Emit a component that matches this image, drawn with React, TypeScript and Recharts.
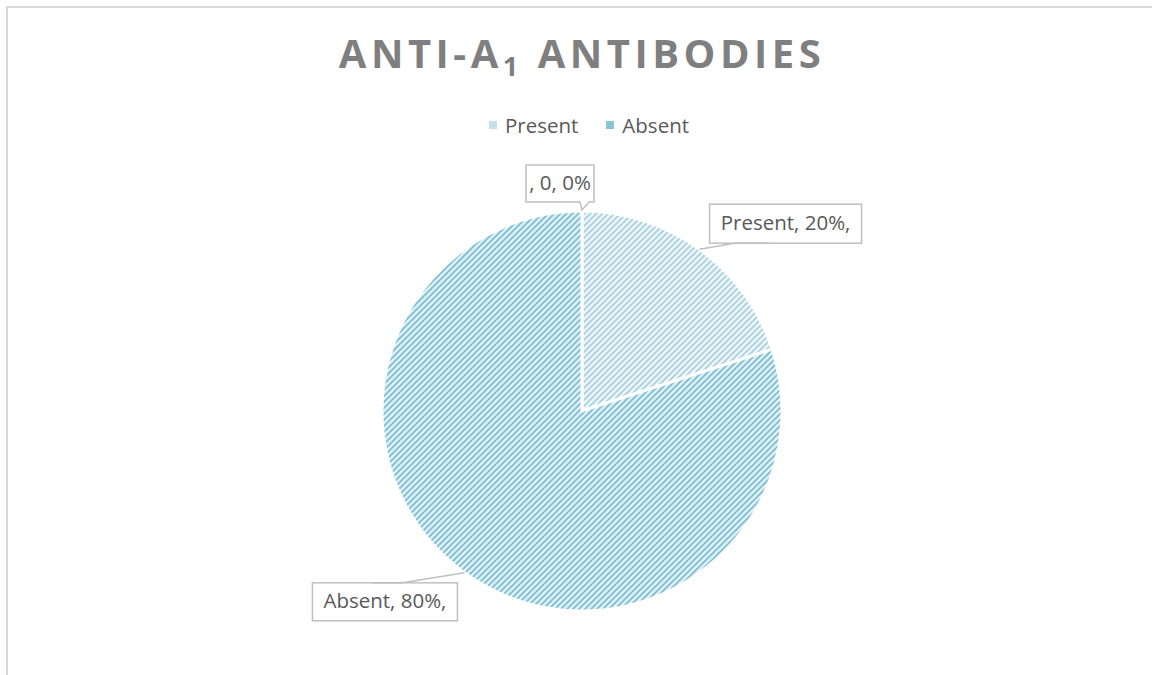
import { PieChart, Pie, Cell } from "recharts";

// categories and values
const categories = ["Present", "Absent", ""];
const shares = [20, 80, 0];
const labelTexts = ["Present, 20%,", "Absent, 80%,", ", 0, 0%"];
const legendNames = ["Present", "Absent"];

const PATTERNS = ["hatchPresent", "hatchAbsent", "hatchPresent"];
const LEGEND_FILL = ["#c4e0ea", "#86c4d7"];
const FONT = "'Open Sans', 'Noto Sans', sans-serif";

const data = categories.map((c, i) => ({ name: c, value: shares[i] }));

const RAD = Math.PI / 180;

// callout boxes, placed around the sector anchor
const BOXES = [
  { dx: 10, dy: -45, w: 152, h: 39 },
  { dx: -152, dy: 10, w: 145, h: 38 },
  { dx: -56, dy: -46, w: 68, h: 37 },
];

function renderLabel(props: any) {
  const { cx, cy, midAngle, outerRadius, index } = props;
  const ax = cx + outerRadius * Math.cos(-midAngle * RAD);
  const ay = cy + outerRadius * Math.sin(-midAngle * RAD);
  const b = BOXES[index];
  const x = ax + b.dx;
  const y = ay + b.dy;
  const stroke = "#bfbfbf";
  let shape;
  if (index === 0) {
    shape = (
      <g>
        <rect x={x} y={y} width={b.w} height={b.h} fill="#fff" stroke={stroke} strokeWidth={1.5} />
        <polyline points={`${ax},${ay} ${x + 25},${y + b.h} ${x + 60},${y + b.h}`} fill="none" stroke={stroke} strokeWidth={1.5} />
      </g>
    );
  } else if (index === 1) {
    shape = (
      <g>
        <rect x={x} y={y} width={b.w} height={b.h} fill="#fff" stroke={stroke} strokeWidth={1.5} />
        <polyline points={`${ax},${ay} ${x + 90},${y} ${x + 60},${y}`} fill="none" stroke={stroke} strokeWidth={1.5} />
      </g>
    );
  } else {
    const bx = x + b.w;
    const by = y + b.h;
    shape = (
      <path
        d={`M${x},${y} H${bx} V${by} H${bx - 5} L${ax},${ay - 1} L${bx - 14},${by} H${x} Z`}
        fill="#fff"
        stroke={stroke}
        strokeWidth={1.5}
      />
    );
  }
  return (
    <g key={`lbl-${index}`}>
      {shape}
      <text
        x={x + b.w / 2}
        y={y + b.h / 2 + 1}
        textAnchor="middle"
        dominantBaseline="middle"
        fill="#595959"
        fontFamily={FONT}
        fontSize={20.5}
      >
        {labelTexts[index]}
      </text>
    </g>
  );
}

export default function App() {
  return (
    <div style={{ position: "absolute", left: 0, top: 0, width: 1152, height: 675, background: "#fff", overflow: "hidden" }}>
      {/* motifs hachurés façon Excel */}
      <svg width={0} height={0} style={{ position: "absolute" }}>
        <defs>
          <pattern id="hatchPresent" patternUnits="userSpaceOnUse" width={6} height={6}>
            <rect width={6} height={6} fill="#f1f8fa" />
            <path d="M-1,1 L1,-1 M0,6 L6,0 M5,7 L7,5" stroke="#afd4e2" strokeWidth={2} />
          </pattern>
          <pattern id="hatchAbsent" patternUnits="userSpaceOnUse" width={6} height={6}>
            <rect width={6} height={6} fill="#e6f3f7" />
            <path d="M-1,1 L1,-1 M0,6 L6,0 M5,7 L7,5" stroke="#84c3d6" strokeWidth={2} />
          </pattern>
        </defs>
      </svg>
      <div style={{ position: "absolute", left: 6, top: 6, width: 1200, height: 700, borderTop: "2px solid #d9d9d9", borderLeft: "2px solid #d9d9d9" }} />
      <div
        style={{
          position: "absolute",
          left: 0,
          top: 28,
          width: 1164,
          textAlign: "center",
          fontFamily: FONT,
          fontWeight: 700,
          fontSize: 40,
          letterSpacing: 4.5,
          color: "#7f7f7f",
          lineHeight: "50px",
        }}
      >
        ANTI-A<sub style={{ fontSize: 27, verticalAlign: "-8px", lineHeight: 0 }}>1</sub> ANTIBODIES
      </div>
      <div
        style={{
          position: "absolute",
          left: 0,
          top: 111,
          width: 1178,
          display: "flex",
          justifyContent: "center",
          gap: 28,
          fontFamily: FONT,
          fontSize: 20.5,
          color: "#595959",
        }}
      >
        {legendNames.map((n, i) => (
          <span key={n} style={{ display: "flex", alignItems: "center", gap: 8 }}>
            <span style={{ width: 8, height: 8, background: LEGEND_FILL[i], display: "inline-block" }} />
            {n}
          </span>
        ))}
      </div>
      <div style={{ position: "absolute", left: 0, top: 0 }}>
        <PieChart width={1152} height={675} margin={{ top: 0, right: 0, bottom: 0, left: 0 }}>
          <Pie
            data={data}
            dataKey="value"
            nameKey="name"
            cx={582}
            cy={411}
            outerRadius={200}
            startAngle={90}
            endAngle={-270}
            stroke="#fff"
            strokeWidth={3}
            label={renderLabel}
            labelLine={false}
            isAnimationActive={false}
          >
            {data.map((_, i) => (
              <Cell key={`cell-${i}`} fill={`url(#${PATTERNS[i]})`} />
            ))}
          </Pie>
        </PieChart>
      </div>
    </div>
  );
}
